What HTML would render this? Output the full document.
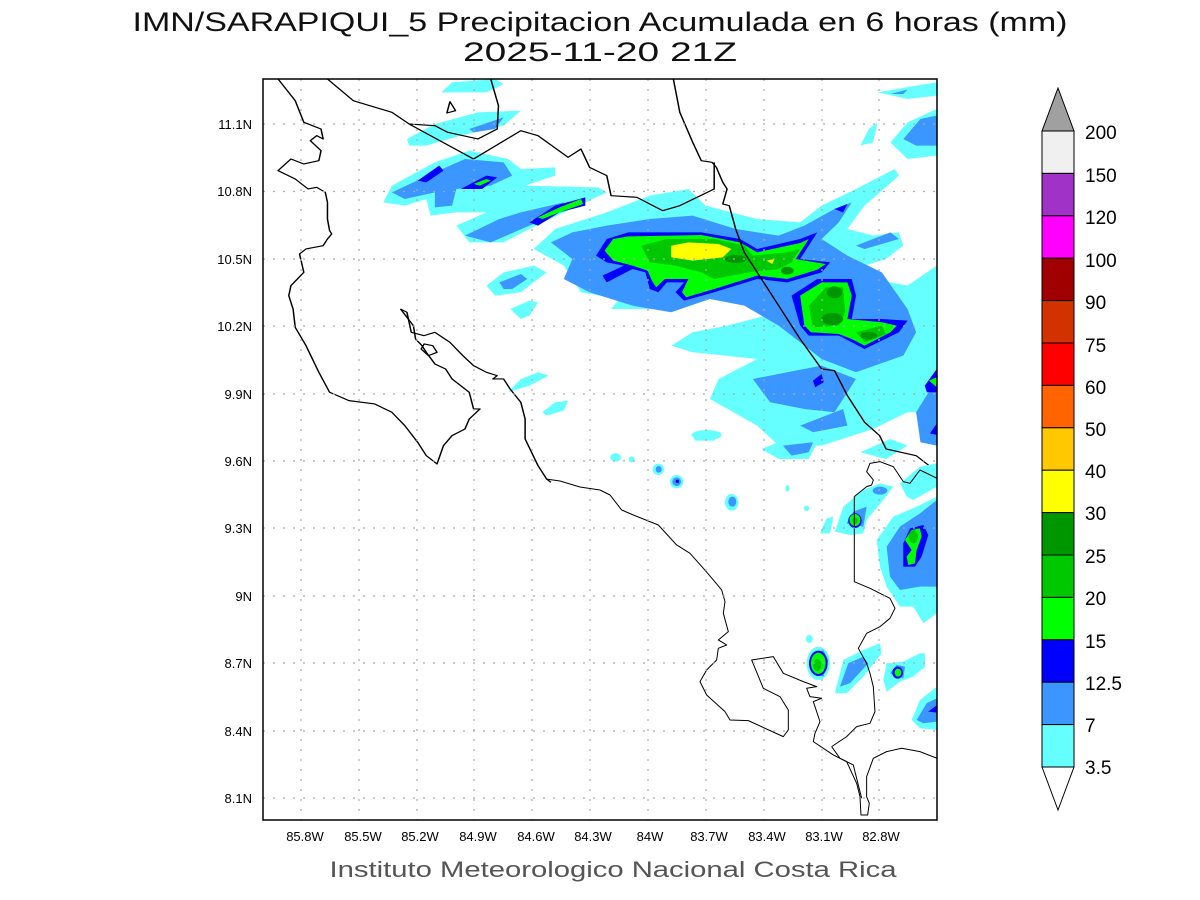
<!DOCTYPE html>
<html><head><meta charset="utf-8"><style>
html,body{margin:0;padding:0;background:#fff;}
svg{display:block;}
text{font-family:"Liberation Sans",sans-serif;}
</style></head><body>
<svg width="1200" height="900" viewBox="0 0 1200 900" xmlns="http://www.w3.org/2000/svg">
<rect width="1200" height="900" fill="#fff"/>
<text x="600" y="31" font-size="27" text-anchor="middle" textLength="935" lengthAdjust="spacingAndGlyphs" fill="#111">IMN/SARAPIQUI_5 Precipitacion Acumulada en 6 horas (mm)</text>
<text x="600" y="61" font-size="27" text-anchor="middle" textLength="274" lengthAdjust="spacingAndGlyphs" fill="#111">2025-11-20 21Z</text>

<defs><clipPath id="pc"><rect x="263" y="79" width="674" height="741"/></clipPath></defs>
<g clip-path="url(#pc)">
<g transform="translate(263,79) scale(0.4297,0.3333)" stroke="none">
 <g fill="#66ffff">
  <polygon points="630,510 680,450 800,400 900,350 990,330 1030,380 1150,420 1250,430 1300,380 1380,330 1470,270 1480,290 1400,380 1360,450 1420,470 1480,460 1490,500 1450,540 1400,560 1420,600 1500,620 1568,560 1568,1000 1500,1000 1420,1050 1300,1100 1200,1100 1150,1040 1040,960 1060,900 1150,840 1000,820 950,800 1000,760 1080,740 1200,700 1050,650 900,690 810,690 830,660 740,640 700,560"/>
  <polygon points="280,370 300,320 400,250 480,215 570,240 600,270 680,265 680,290 610,320 780,325 800,340 700,400 620,450 560,490 480,490 450,440 520,400 450,400 390,410 380,360 330,380"/>
  <polygon points="415,40 440,10 540,0 560,15 520,40"/>
  <polygon points="335,180 400,135 500,100 600,95 560,140 460,170 380,200 340,200"/>
  <polygon points="1430,40 1520,20 1568,10 1568,50 1500,60"/>
  <polygon points="1460,190 1500,130 1568,90 1568,230 1500,240"/>
  <polygon points="1390,200 1410,150 1430,130 1420,190"/>
  <polygon points="520,620 560,580 630,560 660,580 600,640 540,650"/>
  <polygon points="575,690 620,665 640,670 620,710 600,720"/>
  <polygon points="570,940 600,900 640,880 665,890 620,920"/>
  <polygon points="650,1000 680,970 710,965 700,995 660,1010"/>
  <polygon points="1000,1070 1030,1055 1065,1060 1050,1085 1005,1085"/>
  <polygon points="1160,1110 1220,1080 1290,1090 1270,1140 1200,1140"/>
  <polygon points="1390,1120 1460,1080 1500,1100 1450,1140"/>
  <ellipse cx="820" cy="1135" rx="12" ry="12"/><ellipse cx="922" cy="1170" rx="10" ry="15"/>
 </g>
 <g fill="#3c96ff">
  <polygon points="300,340 400,280 470,240 560,250 580,290 530,320 450,330 440,380 400,385 400,340 330,360"/>
  <polygon points="480,150 560,115 540,150 490,160"/>
  <polygon points="470,470 550,420 600,400 700,370 700,395 620,440 530,490"/>
  <polygon points="1490,180 1530,120 1568,110 1568,200 1520,200"/>
  <polygon points="1460,45 1500,32 1490,45"/>
  <polygon points="670,490 720,460 800,440 900,420 1000,410 1100,450 1200,470 1260,440 1330,390 1370,370 1340,430 1300,480 1360,530 1440,580 1500,690 1520,760 1490,830 1380,880 1300,840 1250,790 1200,740 1120,680 1040,660 950,700 860,680 760,640 700,600 720,540"/>
  <polygon points="1380,500 1460,460 1480,480 1400,510"/>
  <polygon points="1140,900 1220,880 1300,860 1380,900 1330,1000 1260,990 1180,970"/>
  <polygon points="1250,1040 1350,990 1360,1040 1280,1060"/>
  <polygon points="1210,1100 1280,1090 1270,1120 1230,1130"/>
  <polygon points="1520,1000 1568,900 1568,1100 1530,1090"/>
  <polygon points="1400,780 1500,760 1490,830 1420,830"/>
  <polygon points="550,610 600,585 615,600 580,630 560,630"/>
 </g>
 <g fill="#0000ff">
  <polygon points="360,305 410,260 420,275 380,310"/>
  <polygon points="460,330 520,290 545,295 510,330"/>
  <polygon points="620,430 680,380 750,355 750,380 690,400 640,440"/>
  <polygon points="775,530 800,480 850,460 950,460 1020,460 1110,480 1150,510 1250,480 1290,460 1250,540 1320,550 1300,580 1220,610 1150,600 1050,640 980,665 960,640 980,610 940,610 920,640 900,630 890,580 860,570 800,610 790,590 840,560 800,550"/>
  <polygon points="1230,650 1290,600 1370,600 1380,650 1370,720 1440,720 1500,725 1480,760 1400,810 1370,790 1340,770 1270,770 1250,740"/>
  <polygon points="1280,905 1300,885 1305,910 1285,925"/>
  <polygon points="1540,920 1568,870 1568,940 1545,940"/>
  <polygon points="1330,390 1360,375 1350,400"/>
 </g>
 <g fill="#00ff00">
  <polygon points="490,315 520,300 530,305 505,320"/>
  <polygon points="640,415 690,385 740,360 745,375 695,398 650,420"/>
  <polygon points="795,515 815,480 850,472 950,470 1020,468 1110,490 1150,520 1250,492 1270,480 1240,540 1310,555 1290,572 1220,600 1150,590 1050,630 985,655 975,640 990,600 935,600 915,625 905,605 895,575 860,560 815,545"/>
  <polygon points="1250,650 1300,610 1360,610 1370,650 1360,720 1440,730 1475,740 1460,760 1400,800 1370,780 1340,765 1275,760 1260,740"/>
  <polygon points="1550,905 1568,895 1568,925"/>
 </g>
 <g fill="#00c800">
  <polygon points="880,500 940,480 1050,480 1120,500 1140,530 1220,520 1250,510 1230,550 1200,570 1130,580 1050,600 1020,580 960,560 900,550"/>
  <polygon points="1270,680 1310,625 1350,625 1355,700 1340,740 1280,745"/>
  <polygon points="1380,760 1440,740 1450,765 1400,790"/>
 </g>
 <g fill="#009600">
  <ellipse cx="1330" cy="640" rx="18" ry="18"/><ellipse cx="1325" cy="720" rx="25" ry="18"/><ellipse cx="1410" cy="770" rx="20" ry="12"/>
  <ellipse cx="1220" cy="575" rx="15" ry="12"/><ellipse cx="1100" cy="540" rx="25" ry="12"/>
 </g>
 <g fill="#ffff00">
  <polygon points="950,500 990,490 1060,495 1090,510 1070,535 1000,545 950,535"/>
  <polygon points="1172,545 1190,540 1185,555"/>
 </g>
 <g fill="none" stroke="#000" stroke-width="3.5" stroke-linejoin="round">
  <polyline points="35,0 75,65 95,130 135,150 140,180 125,170 110,185 135,215 130,245 95,255 65,240 35,275 75,300 105,330 125,325 145,340 150,370 150,420 155,455 160,465 150,480 140,500 100,510 85,525 95,580 80,600 65,620 60,650 70,690 75,745 100,800 130,880 155,940 200,965 260,975 300,1000 330,1040 360,1090 380,1130 405,1155 420,1100 440,1070 470,1050 480,1020 505,990 490,990 480,940 440,900 425,870 400,855 380,820 370,800 355,780 350,740 320,690"/>
  <polyline points="320,690 335,700 345,760 375,770 400,760 435,790 465,830 490,860 520,880 545,890 535,900 560,900 575,930 600,970 610,1020 610,1080 640,1160 660,1200 670,1210"/>
  <polygon points="375,795 395,800 405,820 385,830 368,810"/>
  <polygon points="435,68 448,95 428,102"/>
  <polyline points="150,0 210,65 300,100 340,135 400,140 430,160 500,180 545,150 548,80 530,0"/>
  <polyline points="340,135 490,240"/>
  <polyline points="490,240 600,155 640,170 710,235 740,210 760,265 800,290 810,350 870,355 930,395 970,380 1050,330 1050,250"/>
  <polyline points="955,0 970,100 1000,190 1020,245 1045,250 1055,265 1070,310 1080,330 1070,375 1085,380 1100,450 1120,520 1160,600 1200,680 1250,780 1300,870 1330,875 1360,950 1400,1030 1435,1070 1450,1110 1520,1130 1560,1170"/>
 </g>
</g>
<polyline points="546,479 560,481 580,487 600,490" fill="none" stroke="#000" stroke-width="1.1"/>
<g transform="translate(600,400) scale(0.3333)">
 <g fill="#66ffff">
  <ellipse cx="48" cy="173" rx="15" ry="12"/><ellipse cx="95" cy="178" rx="9" ry="9"/>
  <ellipse cx="175" cy="208" rx="17" ry="17"/><ellipse cx="230" cy="245" rx="20" ry="20"/>
  <ellipse cx="395" cy="307" rx="20" ry="25"/><ellipse cx="320" cy="105" rx="45" ry="15"/>
  <ellipse cx="562" cy="265" rx="6" ry="10"/><ellipse cx="620" cy="325" rx="8" ry="8"/>
  <polygon points="705,395 730,320 790,270 840,250 880,260 850,300 800,360 790,400 750,405"/>
  <polygon points="660,400 680,355 700,350 690,400"/>
  <polygon points="830,420 880,350 950,320 1011,290 1011,640 970,670 940,620 900,620 860,560 840,500"/>
  <polygon points="900,250 960,200 1011,190 1011,260 940,300 920,290"/>
  <ellipse cx="655" cy="790" rx="35" ry="50"/><ellipse cx="628" cy="717" rx="10" ry="12"/>
  <polygon points="705,880 730,780 790,750 840,730 845,760 790,830 740,880"/>
  <polygon points="850,840 860,790 910,785 960,760 975,760 975,800 940,830 900,845 860,875"/>
  <polygon points="935,960 960,900 1011,860 1011,990 960,985"/>
 </g>
 <g fill="#3c96ff">
  <ellipse cx="176" cy="208" rx="9" ry="10"/><ellipse cx="230" cy="245" rx="13" ry="13"/><ellipse cx="397" cy="305" rx="12" ry="15"/>
  <ellipse cx="840" cy="272" rx="22" ry="12"/>
  <polygon points="740,370 760,335 800,320 790,380"/>
  <polygon points="860,440 900,380 960,340 1011,300 1011,560 960,560 900,570 870,530"/>
  <polygon points="650,760 670,750 685,780 670,830 640,820"/>
  <polygon points="720,860 745,790 790,770 805,790 750,850"/>
  <polygon points="870,820 890,795 915,800 910,835"/>
  <polygon points="950,960 980,910 1011,895 1011,965 970,970"/>
 </g>
 <g fill="#0000ff">
  <circle cx="232" cy="244" r="5"/>
  <ellipse cx="765" cy="362" rx="20" ry="22"/>
  <polygon points="910,430 930,385 970,375 985,405 965,470 945,500 910,500"/>
  <polygon points="990,100 1011,70 1011,105"/>
  <ellipse cx="655" cy="790" rx="28" ry="38"/>
  <ellipse cx="893" cy="818" rx="16" ry="18"/>
  <polygon points="985,935 1011,915 1011,938"/>
 </g>
 <g fill="#00ff00">
  <ellipse cx="765" cy="360" rx="16" ry="18"/>
  <polygon points="915,420 935,390 960,385 965,410 950,450 945,490 925,495 920,470 935,450"/>
  <ellipse cx="655" cy="790" rx="22" ry="32"/>
  <ellipse cx="894" cy="818" rx="10" ry="12"/>
 </g>
 <g fill="#00c800">
  <ellipse cx="940" cy="410" rx="14" ry="20"/><ellipse cx="652" cy="795" rx="12" ry="18"/><ellipse cx="765" cy="362" rx="8" ry="10"/>
 </g>
 <g fill="none" stroke="#000" stroke-width="3" stroke-linejoin="round">
  <polyline points="0,270 30,285 65,330 100,345 175,375 230,435 270,460 310,505 340,540 365,570 375,605 370,640 385,695 355,720 380,735 355,745 350,780 320,810 300,845 320,885 375,935 390,960 445,962 550,1010 565,990 565,930 540,890 490,865 455,780 520,770 550,820 610,845 650,860 620,865 630,890 665,895 640,905 660,965 645,1000 640,1025 700,1065 740,1085 770,1150 780,1190 783,1245 803,1245 808,1210 800,1190 800,1130 820,1075 860,1055 905,1045 960,1055 1011,1075"/>
  <polyline points="695,1040 740,1010 770,980 810,970 825,935 820,860 810,820 800,790 775,745 800,700 840,680 870,655 885,625 870,595 840,580 810,565 763,545 763,290 800,260 815,255 820,240 800,215 810,190 840,185 880,200 910,245 930,250 960,210 1011,235"/>
  <polyline points="695,1040 720,1075 760,1095 785,1195"/>
 </g>
</g>
</g>
<g stroke="#aaa" stroke-width="1.2" stroke-dasharray="2,8">
 <line x1="301" y1="79" x2="301" y2="820"/><line x1="359" y1="79" x2="359" y2="820"/><line x1="417" y1="79" x2="417" y2="820"/><line x1="474" y1="79" x2="474" y2="820"/><line x1="532" y1="79" x2="532" y2="820"/><line x1="590" y1="79" x2="590" y2="820"/><line x1="648" y1="79" x2="648" y2="820"/><line x1="706" y1="79" x2="706" y2="820"/><line x1="764" y1="79" x2="764" y2="820"/><line x1="822" y1="79" x2="822" y2="820"/><line x1="879" y1="79" x2="879" y2="820"/>
 <line x1="263" y1="124" x2="937" y2="124"/><line x1="263" y1="191.5" x2="937" y2="191.5"/><line x1="263" y1="259" x2="937" y2="259"/><line x1="263" y1="326" x2="937" y2="326"/><line x1="263" y1="394" x2="937" y2="394"/><line x1="263" y1="461" x2="937" y2="461"/><line x1="263" y1="528" x2="937" y2="528"/><line x1="263" y1="596" x2="937" y2="596"/><line x1="263" y1="663" x2="937" y2="663"/><line x1="263" y1="731" x2="937" y2="731"/><line x1="263" y1="798" x2="937" y2="798"/>
</g>
<rect x="263" y="79" width="674" height="741" fill="none" stroke="#000" stroke-width="1.5"/>
<g font-size="13" fill="#000" text-anchor="middle">
 <text x="305" y="841">85.8W</text><text x="363" y="841">85.5W</text><text x="420" y="841">85.2W</text><text x="478" y="841">84.9W</text><text x="536" y="841">84.6W</text><text x="593" y="841">84.3W</text><text x="650" y="841">84W</text><text x="709" y="841">83.7W</text><text x="767" y="841">83.4W</text><text x="824" y="841">83.1W</text><text x="881" y="841">82.8W</text>
</g>
<g font-size="13" fill="#000" text-anchor="end">
 <text x="252" y="129">11.1N</text><text x="252" y="196">10.8N</text><text x="252" y="264">10.5N</text><text x="252" y="331">10.2N</text><text x="252" y="399">9.9N</text><text x="252" y="466">9.6N</text><text x="252" y="533">9.3N</text><text x="252" y="601">9N</text><text x="252" y="668">8.7N</text><text x="252" y="736">8.4N</text><text x="252" y="803">8.1N</text>
</g>
<text x="613" y="877" font-size="22" text-anchor="middle" textLength="567" lengthAdjust="spacingAndGlyphs" fill="#555">Instituto Meteorologico Nacional Costa Rica</text>

<g stroke="#000" stroke-width="1">
 <polygon points="1042,131 1058,88 1074,131" fill="#a0a0a0"/>
 <rect x="1042" y="131" width="32" height="42.4" fill="#f0f0f0"/>
 <rect x="1042" y="173.4" width="32" height="42.4" fill="#a032c8"/>
 <rect x="1042" y="215.8" width="32" height="42.4" fill="#ff00ff"/>
 <rect x="1042" y="258.2" width="32" height="42.4" fill="#a00000"/>
 <rect x="1042" y="300.6" width="32" height="42.4" fill="#d23200"/>
 <rect x="1042" y="343" width="32" height="42.4" fill="#ff0000"/>
 <rect x="1042" y="385.4" width="32" height="42.4" fill="#ff6400"/>
 <rect x="1042" y="427.8" width="32" height="42.4" fill="#ffc800"/>
 <rect x="1042" y="470.2" width="32" height="42.4" fill="#ffff00"/>
 <rect x="1042" y="512.6" width="32" height="42.4" fill="#009600"/>
 <rect x="1042" y="555" width="32" height="42.4" fill="#00c800"/>
 <rect x="1042" y="597.4" width="32" height="42.4" fill="#00ff00"/>
 <rect x="1042" y="639.8" width="32" height="42.4" fill="#0000ff"/>
 <rect x="1042" y="682.2" width="32" height="42.4" fill="#3c96ff"/>
 <rect x="1042" y="724.6" width="32" height="42.4" fill="#66ffff"/>
 <polygon points="1042,767 1074,767 1058,810" fill="#fff"/>
</g>
<g font-size="19" fill="#000">
 <text x="1085" y="139">200</text><text x="1085" y="182">150</text><text x="1085" y="224">120</text><text x="1085" y="267">100</text><text x="1085" y="309">90</text><text x="1085" y="352">75</text><text x="1085" y="394">60</text><text x="1085" y="436">50</text><text x="1085" y="478">40</text><text x="1085" y="520">30</text><text x="1085" y="563">25</text><text x="1085" y="605">20</text><text x="1085" y="648">15</text><text x="1085" y="690">12.5</text><text x="1085" y="732">7</text><text x="1085" y="774">3.5</text>
</g>
</svg>
</body></html>
